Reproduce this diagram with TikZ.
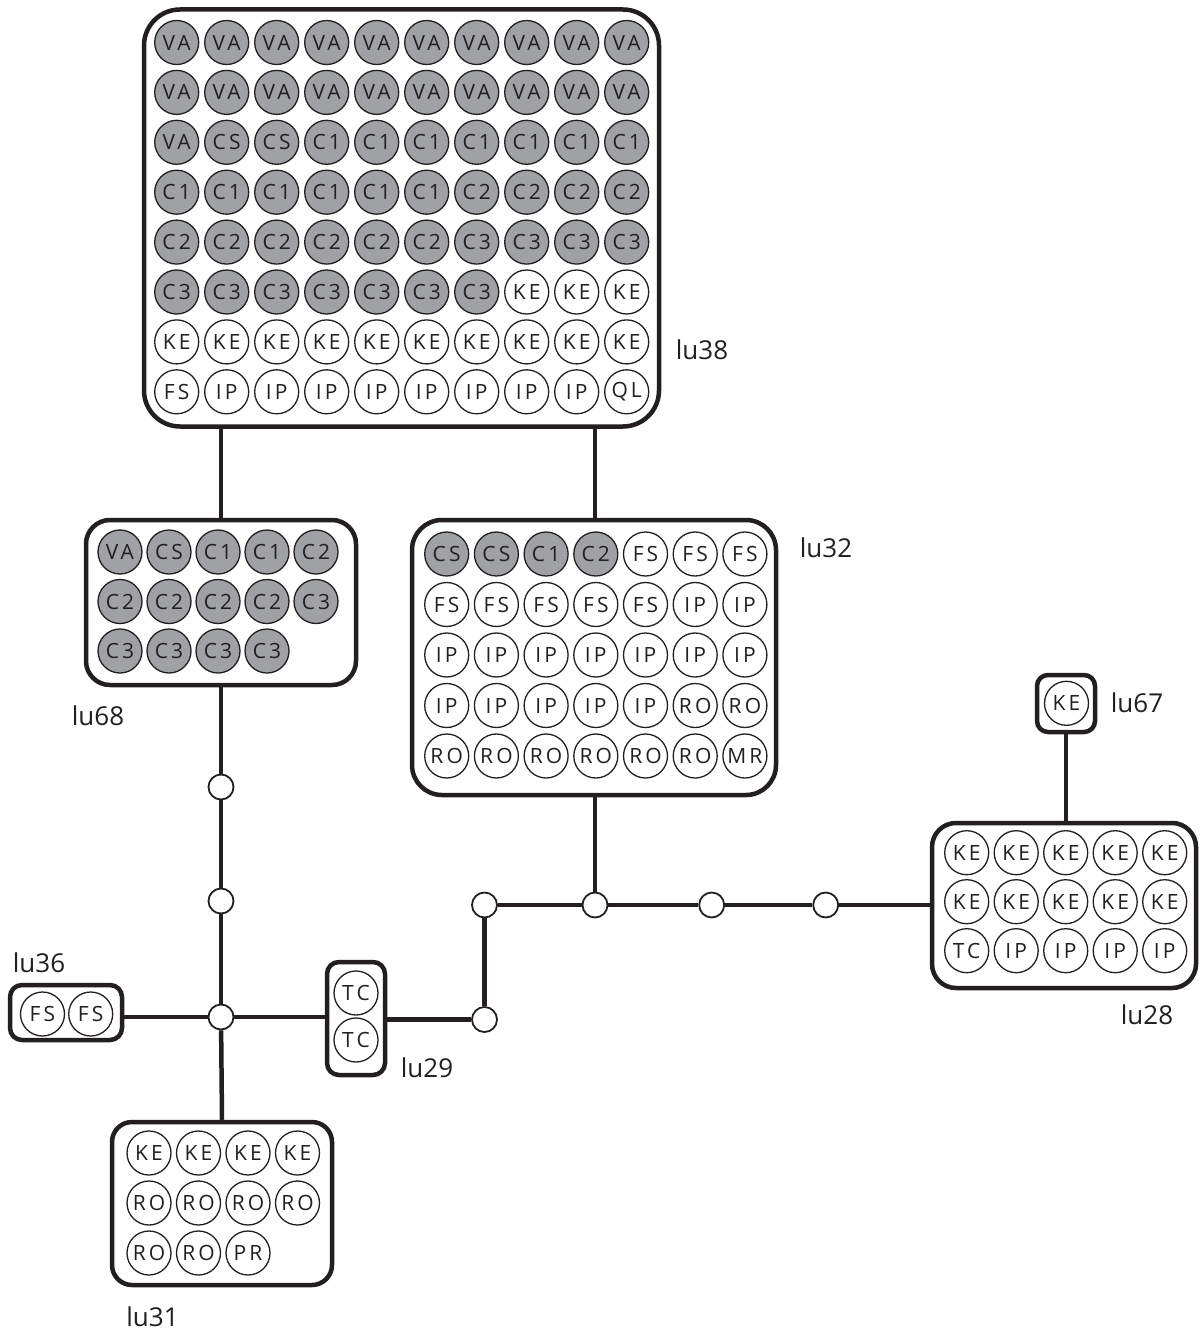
\documentclass[tikz,border=0pt]{standalone}
\usepackage{fontspec}
\setmainfont{Open Sans}
\newfontfamily\circfont[LetterSpace=15.0]{Open Sans}
\newfontfamily\lblfont{Open Sans}
\definecolor{shade}{RGB}{160,161,165}
\definecolor{ink}{RGB}{35,31,32}
\tikzset{
  grp/.style={draw=ink, line width=4.5pt, fill=white, rectangle, inner sep=0pt},
  ent/.style={circle, draw=ink, line width=1.3pt, minimum size=44pt, inner sep=0pt,
              text=ink, font=\circfont\fontsize{21}{21}\selectfont},
  junc/.style={circle, draw=ink, line width=1.8pt, fill=white, minimum size=25pt, inner sep=0pt},
  conn/.style={draw=ink, line width=4.5pt},
  lbl/.style={text=ink, font=\lblfont\fontsize{26}{26}\selectfont, inner sep=0pt}
}
\newcommand\placegrid[7]{%
  \foreach \tx/\fc [count=\k from 0] in {#7} {
    \pgfmathtruncatemacro\gr{\k/#6}
    \pgfmathtruncatemacro\gc{\k-\gr*#6}
    \node[ent, fill=\fc] (#1-\k) at ({#2+\gc*#4},{#3+\gr*#5}) {\tx};
  }}
\begin{document}
\begin{tikzpicture}[x=1pt,y=-1pt]
\fill[white] (0,0) rectangle (1199,1332);
\useasboundingbox (0,0) rectangle (1199,1332);

% group boxes
\node[grp, rounded corners=36pt, minimum width=515pt, minimum height=417pt] (lu38) at (401.5,218) {};
\node[grp, rounded corners=24pt, minimum width=270pt, minimum height=165pt] (lu68) at (221,602.5) {};
\node[grp, rounded corners=30pt, minimum width=364pt, minimum height=275pt] (lu32) at (594,657.5) {};
\node[grp, rounded corners=24pt, minimum width=264pt, minimum height=165pt] (lu28) at (1064,905.5) {};
\node[grp, rounded corners=11pt, minimum width=58pt, minimum height=57pt] (lu67) at (1066,703.5) {};
\node[grp, rounded corners=12pt, minimum width=112pt, minimum height=55pt] (lu36) at (66,1012.5) {};
\node[grp, rounded corners=12pt, minimum width=58pt, minimum height=113pt] (lu29) at (356,1018.5) {};
\node[grp, rounded corners=20pt, minimum width=220pt, minimum height=163pt] (lu31) at (222,1203.5) {};

% junctions
\node[junc] (j1) at (221,787) {};
\node[junc] (j2) at (221,901) {};
\node[junc] (j3) at (221,1017) {};
\node[junc] (ja) at (484.5,905) {};
\node[junc] (jb) at (595,905) {};
\node[junc] (jc) at (711.7,905) {};
\node[junc] (jd) at (825.7,905) {};
\node[junc] (je) at (484.5,1019.5) {};

% circles
\placegrid{lu38}{176.7}{42.5}{50}{49.9}{10}{%
VA/shade,VA/shade,VA/shade,VA/shade,VA/shade,VA/shade,VA/shade,VA/shade,VA/shade,VA/shade,
VA/shade,VA/shade,VA/shade,VA/shade,VA/shade,VA/shade,VA/shade,VA/shade,VA/shade,VA/shade,
VA/shade,CS/shade,CS/shade,C1/shade,C1/shade,C1/shade,C1/shade,C1/shade,C1/shade,C1/shade,
C1/shade,C1/shade,C1/shade,C1/shade,C1/shade,C1/shade,C2/shade,C2/shade,C2/shade,C2/shade,
C2/shade,C2/shade,C2/shade,C2/shade,C2/shade,C2/shade,C3/shade,C3/shade,C3/shade,C3/shade,
C3/shade,C3/shade,C3/shade,C3/shade,C3/shade,C3/shade,C3/shade,KE/white,KE/white,KE/white,
KE/white,KE/white,KE/white,KE/white,KE/white,KE/white,KE/white,KE/white,KE/white,KE/white,
FS/white,IP/white,IP/white,IP/white,IP/white,IP/white,IP/white,IP/white,IP/white,QL/white}

\placegrid{lu68}{120}{552}{49}{49.5}{5}{%
VA/shade,CS/shade,C1/shade,C1/shade,C2/shade,
C2/shade,C2/shade,C2/shade,C2/shade,C3/shade,
C3/shade,C3/shade,C3/shade,C3/shade}

\placegrid{lu32}{446.7}{554}{49.7}{50.5}{7}{%
CS/shade,CS/shade,C1/shade,C2/shade,FS/white,FS/white,FS/white,
FS/white,FS/white,FS/white,FS/white,FS/white,IP/white,IP/white,
IP/white,IP/white,IP/white,IP/white,IP/white,IP/white,IP/white,
IP/white,IP/white,IP/white,IP/white,IP/white,RO/white,RO/white,
RO/white,RO/white,RO/white,RO/white,RO/white,RO/white,MR/white}

\placegrid{lu28}{966.7}{852.7}{49.5}{49}{5}{%
KE/white,KE/white,KE/white,KE/white,KE/white,
KE/white,KE/white,KE/white,KE/white,KE/white,
TC/white,IP/white,IP/white,IP/white,IP/white}

\placegrid{lu67}{1066.5}{703.3}{0}{0}{1}{KE/white}
\placegrid{lu36}{42.5}{1014}{48.2}{0}{2}{FS/white,FS/white}
\placegrid{lu29}{356}{993}{0}{47}{1}{TC/white,TC/white}

\placegrid{lu31}{149}{1153}{49.5}{50}{4}{%
KE/white,KE/white,KE/white,KE/white,
RO/white,RO/white,RO/white,RO/white,
RO/white,RO/white,PR/white}

% connectors
\draw[conn] (lu68.north |- lu38.south) -- (lu68.north);
\draw[conn] (jb |- lu38.south) -- (jb |- lu32.north);
\draw[conn] (lu68.south) -- (j1);
\draw[conn] (j1) -- (j2);
\draw[conn] (j2) -- (j3);
\draw[conn] (j3) -- (lu31.north);
\draw[conn] (lu36.east |- j3) -- (j3);
\draw[conn] (j3) -- (j3 -| lu29.west);
\draw[conn] (lu29.east |- je) -- (je);
\draw[conn] (je) -- (ja);
\draw[conn] (ja) -- (jb);
\draw[conn] (jb) -- (jc);
\draw[conn] (jc) -- (jd);
\draw[conn] (jd) -- (jd -| lu28.west);
\draw[conn] (jb |- lu32.south) -- (jb);
\draw[conn] (lu67.south) -- (lu67.south |- lu28.north);

% labels
\node[lbl] (t38) at (702,350) {lu38};
\node[lbl] (t32) at (826,548) {lu32};
\node[lbl] (t68) at (98,716) {lu68};
\node[lbl] (t67) at (1137,703) {lu67};
\node[lbl] (t28) at (1147,1015) {lu28};
\node[lbl] (t36) at (39,962.5) {lu36};
\node[lbl] (t29) at (427,1067.5) {lu29};
\node[lbl] (t31) at (152.5,1317) {lu31};
\end{tikzpicture}
\end{document}
